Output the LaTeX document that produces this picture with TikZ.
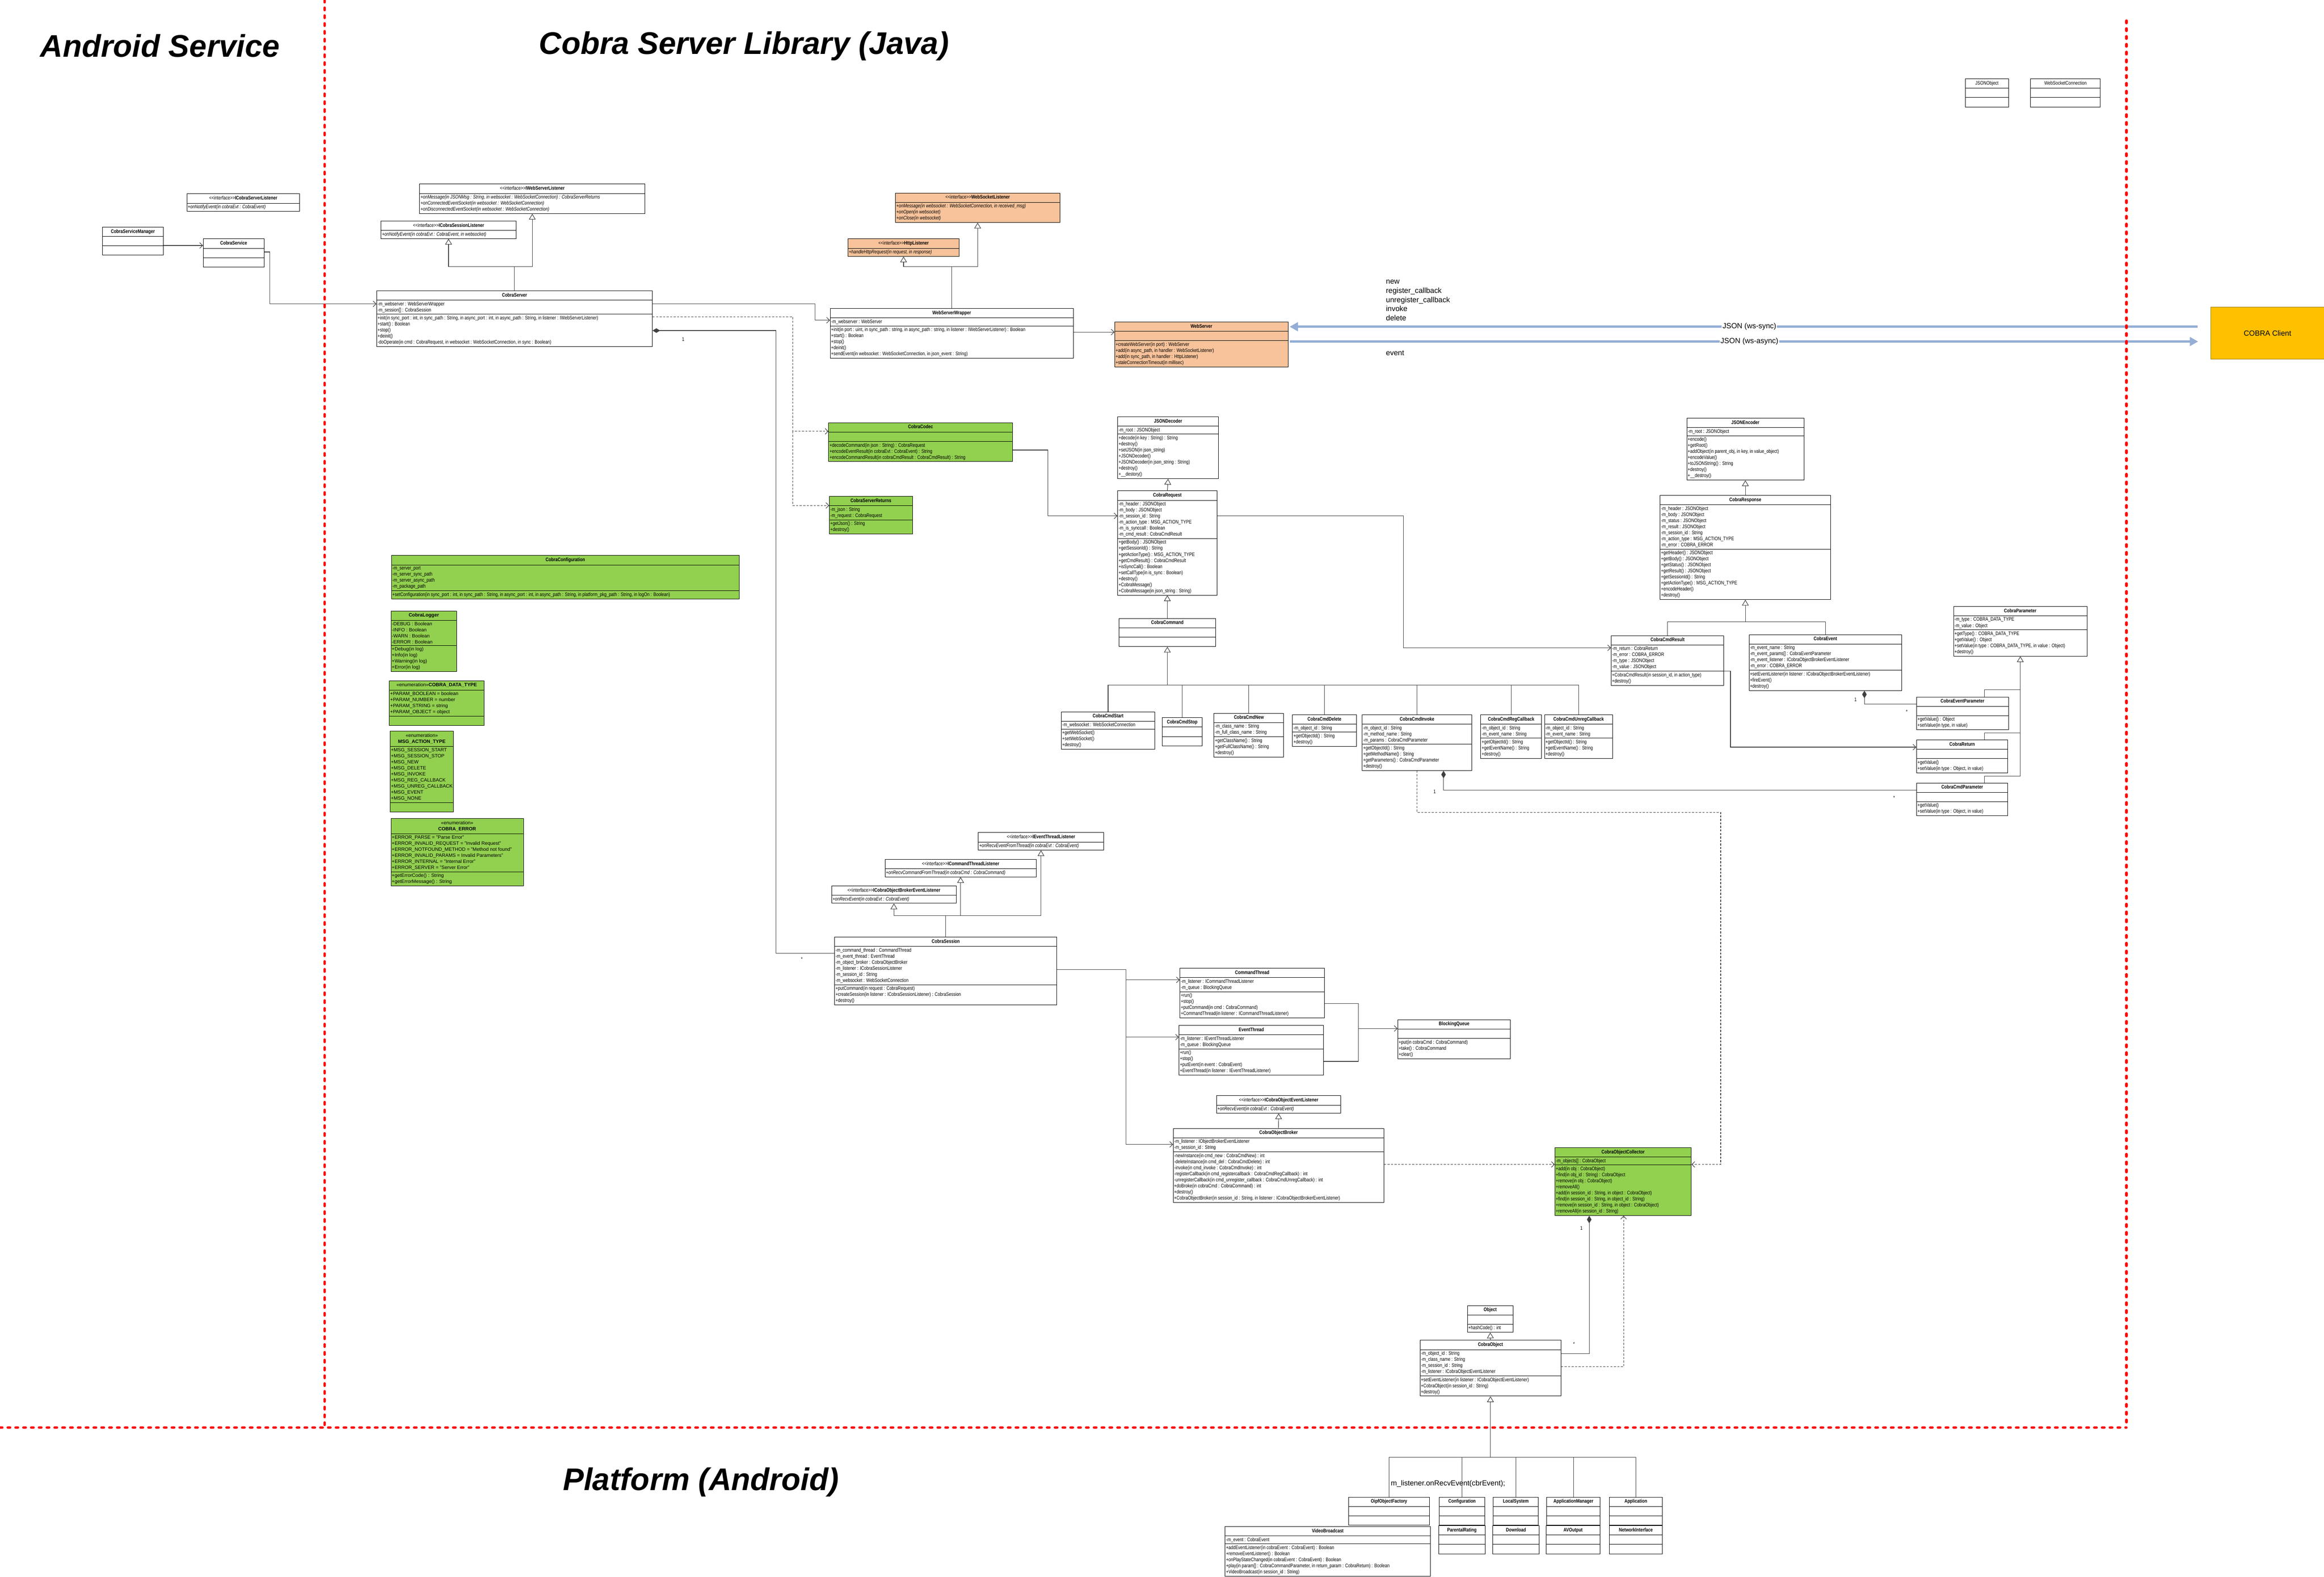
\documentclass[tikz,border=0pt]{standalone}
\usepackage{fontspec}
\setmainfont{Liberation Sans}
\newfontfamily\cfont{Liberation Sans}[FakeStretch=0.82]
\usetikzlibrary{shapes.multipart,arrows.meta}
\definecolor{peach}{HTML}{F8C39B}
\definecolor{leaf}{HTML}{92D050}
\definecolor{amber}{HTML}{FFC000}
\definecolor{amberline}{HTML}{9C7A00}
\definecolor{pipe}{HTML}{94AED5}
\newcommand\ttl[1]{\strut\textbf{#1}}
\newcommand\ifn[1]{\strut\textless\textless interface\textgreater\textgreater\textbf{#1}}
\newcommand\enm[1]{\begin{tabular}{@{}c@{}}\textless\textless enumeration\textgreater\textgreater\\\textbf{#1}\end{tabular}}
\begin{document}
\begin{tikzpicture}[x=0.04cm, y=-0.04cm,
        cls/.style = {draw, line width=0.35pt, fill=white, rectangle split, rectangle split parts=3,
            rectangle split part align={center,left,left}, anchor=north west, align=left,
            inner xsep=0.7pt, inner ysep=1.1pt, font=\cfont\fontsize{3.9}{4.65}\selectfont},
        ifc/.style = {cls, rectangle split parts=2},
        enum/.style = {cls, font=\fontsize{3.7}{4.65}\selectfont},
        wd/.style = {minimum width=#1*0.04cm},
        line/.style = {draw=black!75, line width=0.4pt},
        assoc/.style = {line, -{Straight Barb[length=2.3pt,width=4.4pt]}},
        dep/.style = {assoc, dash pattern=on 1.6pt off 1.1pt},
        gen/.style = {line, -{Triangle[open,length=4.4pt,width=5.2pt]}},
        comp/.style = {line, -{Diamond[length=5.8pt,width=3.5pt]}},
        mult/.style = {font=\cfont\fontsize{3.9}{4.65}\selectfont, inner sep=0pt},
        json/.style = {draw=pipe, line width=1.7pt},
        note/.style = {font=\fontsize{5.7}{7}\selectfont, inner sep=0pt, align=left},
        area/.style = {font=\fontsize{24}{28}\selectfont\bfseries\itshape, inner sep=0pt},
        sep/.style = {draw=red, line width=2pt, dash pattern=on 1.7pt off 4.3pt, line cap=round},
        ]
    \useasboundingbox (0,0) rectangle (1568.1,1063.5);

    \node[area] (t1) at (108,31) {Android Service};
    \node[area] (t2) at (502,31) {Cobra Server Library (Java)};
    \node[area] (t3) at (473,1000) {Platform (Android)};

    % android service
    \node[ifc, wd=76] (csl) at (126,130.6) {\ifn{ICobraServerListener} \nodepart{second} \textit{+onNotifyEvent(in cobraEvt : CobraEvent)}};
    \node[cls, wd=41] (csm) at (69,153) {\ttl{CobraServiceManager} \nodepart{second}\strut \nodepart{third}\strut};
    \node[cls, wd=41] (svc) at (137,161) {\ttl{CobraService} \nodepart{second}\strut \nodepart{third}\strut};

    % server
    \node[ifc, wd=152] (wsl) at (283,124) {\ifn{IWebServerListener} \nodepart{second}
        \textit{+onMessage(in JSONMsg : String, in websocket : WebSocketConnection) : CobraServerReturns}\\
        \textit{+onConnectedEventSocket(in websocket : WebSocketConnection)}\\
        \textit{+onDisconnectedEventSocket(in websocket : WebSocketConnection)}};
    \node[ifc, wd=91] (sesl) at (257,149) {\ifn{ICobraSessionListener} \nodepart{second}
        \textit{+onNotifyEvent(in cobraEvt : CobraEvent, in websocket)}};
    \node[cls, wd=186] (srv) at (254,196) {\ttl{CobraServer} \nodepart{second}
        -m\_webserver : WebServerWrapper\\-m\_session[] : CobraSession \nodepart{third}
        +init(in sync\_port : int, in sync\_path : String, in async\_port : int, in async\_path : String, in listener : IWebServerListener)\\
        +start() : Boolean\\+stop()\\+deinit()\\
        -doOperate(in cmd : CobraRequest, in websocket : WebSocketConnection, in sync : Boolean)};
    \node[ifc, wd=111, fill=peach] (wsock) at (604,130) {\ifn{WebSocketListener} \nodepart{second}
        \textit{+onMessage(in websocket : WebSocketConnection, in received\_msg)}\\
        \textit{+onOpen(in websocket)}\\\textit{+onClose(in websocket)}};
    \node[ifc, wd=75, fill=peach] (http) at (572,161) {\ifn{HttpListener} \nodepart{second}
        \textit{+handleHttpRequest(in request, in response)}};
    \node[cls, wd=164] (wrap) at (560,208) {\ttl{WebServerWrapper} \nodepart{second}
        -m\_webserver : WebServer \nodepart{third}
        +init(in port : uint, in sync\_path : string, in async\_path : string, in listener : IWebServerListener) : Boolean\\
        +start() : Boolean\\+stop()\\+deinit()\\
        +sendEvent(in websocket : WebSocketConnection, in json\_event : String)};
    \node[cls, wd=117, fill=peach] (web) at (752,217) {\ttl{WebServer} \nodepart{second}\strut \nodepart{third}
        +createWebServer(in port) : WebServer\\
        +add(in async\_path, in handler : WebSocketListener)\\
        +add(in sync\_path, in handler : HttpListener)\\
        +staleConnectionTimeout(in millisec)};
    \node[draw=amberline, fill=amber, line width=0.5pt, anchor=north west, minimum width=76.5*0.04cm,
        minimum height=35*0.04cm, font=\fontsize{5.7}{7}\selectfont] (client) at (1491.5,207) {COBRA Client};
    \node[cls, wd=29] (jobj) at (1326,53) {\strut JSONObject \nodepart{second}\strut \nodepart{third}\strut};
    \node[cls, wd=47] (wconn) at (1370,53) {\strut WebSocketConnection \nodepart{second}\strut \nodepart{third}\strut};

    \node[note, anchor=north west] (acts) at (935,188.7) {new\\register\_callback\\unregister\_callback\\invoke\\delete};
    \node[note, anchor=base west] (evt) at (935,239.8) {event};

    % codec and messages
    \node[cls, wd=124, fill=leaf] (codec) at (559,285) {\ttl{CobraCodec} \nodepart{second}\strut \nodepart{third}
        +decodeCommand(in json : String) : CobraRequest\\
        +encodeEventResult(in cobraEvt : CobraEvent) : String\\
        +encodeCommandResult(in cobraCmdResult : CobraCmdResult) : String};
    \node[cls, wd=56, fill=leaf] (sret) at (559.5,334.7) {\ttl{CobraServerReturns} \nodepart{second}
        -m\_json : String\\-m\_request : CobraRequest \nodepart{third}
        +getJson() : String\\+destroy()};
    \node[cls, wd=68] (jdec) at (754,281) {\ttl{JSONDecoder} \nodepart{second}
        -m\_root : JSONObject \nodepart{third}
        +decode(in key : String) : String\\+destroy()\\+setJSON(in json\_string)\\+JSONDecoder()\\
        +JSONDecoder(in json\_string : String)\\+destroy()\\+\_\_destory()};
    \node[cls, wd=67] (req) at (754,331) {\ttl{CobraRequest} \nodepart{second}
        -m\_header : JSONObject\\-m\_body : JSONObject\\-m\_session\_id : String\\
        -m\_action\_type : MSG\_ACTION\_TYPE\\-m\_is\_synccall : Boolean\\-m\_cmd\_result : CobraCmdResult \nodepart{third}
        +getBody() : JSONObject\\+getSessionId() : String\\+getActionType() : MSG\_ACTION\_TYPE\\
        +getCmdResult() : CobraCmdResult\\+isSyncCall() : Boolean\\+setCallType(in is\_sync : Boolean)\\
        +destroy()\\+CobraMessage()\\+CobraMessage(in json\_string : String)};
    \node[cls, wd=65] (cmd) at (755,417) {\ttl{CobraCommand} \nodepart{second}\strut \nodepart{third}\strut};
    \node[cls, wd=63] (cstart) at (716,480) {\ttl{CobraCmdStart} \nodepart{second}
        -m\_websocket : WebSocketConnection \nodepart{third}
        +getWebSocket()\\+setWebSocket()\\+destroy()};
    \node[cls, wd=27] (cstop) at (784,484) {\ttl{CobraCmdStop} \nodepart{second}\strut \nodepart{third}\strut};
    \node[cls, wd=47] (cnew) at (819,481) {\ttl{CobraCmdNew} \nodepart{second}
        -m\_class\_name : String\\-m\_full\_class\_name : String \nodepart{third}
        +getClassName() : String\\+getFullClassName() : String\\+destroy()};
    \node[cls, wd=43] (cdel) at (872,482) {\ttl{CobraCmdDelete} \nodepart{second}
        -m\_object\_id : String \nodepart{third}
        +getObjectId() : String\\+destroy()};
    \node[cls, wd=74] (cinv) at (919,482) {\ttl{CobraCmdInvoke} \nodepart{second}
        -m\_object\_id : String\\-m\_method\_name : String\\-m\_params : CobraCmdParameter \nodepart{third}
        +getObjectId() : String\\+getMethodName() : String\\+getParameters() : CobraCmdParameter\\+destroy()};
    \node[cls, wd=41] (creg) at (999,482) {\ttl{CobraCmdRegCallback} \nodepart{second}
        -m\_object\_id : String\\-m\_event\_name : String \nodepart{third}
        +getObjectId() : String\\+getEventName() : String\\+destroy()};
    \node[cls, wd=46] (cunreg) at (1042,482) {\ttl{CobraCmdUnregCallback} \nodepart{second}
        -m\_object\_id : String\\-m\_event\_name : String \nodepart{third}
        +getObjectId() : String\\+getEventName() : String\\+destroy()};

    \node[cls, wd=79] (jenc) at (1138,282) {\ttl{JSONEncoder} \nodepart{second}
        -m\_root : JSONObject \nodepart{third}
        +encode()\\+getRoot()\\+addObject(in parent\_obj, in key, in value\_object)\\+encodeValue()\\
        +toJSONString() : String\\+destroy()\\+\_\_destroy()};
    \node[cls, wd=115] (resp) at (1120,334) {\ttl{CobraResponse} \nodepart{second}
        -m\_header : JSONObject\\-m\_body : JSONObject\\-m\_status : JSONObject\\-m\_result : JSONObject\\
        -m\_session\_id : String\\-m\_action\_type : MSG\_ACTION\_TYPE\\-m\_error : COBRA\_ERROR \nodepart{third}
        +getHeader() : JSONObject\\+getBody() : JSONObject\\+getStatus() : JSONObject\\+getResult() : JSONObject\\
        +getSessionId() : String\\+getActionType() : MSG\_ACTION\_TYPE\\+encodeHeader()\\+destroy()};
    \node[cls, wd=76] (cres) at (1087,428.6) {\ttl{CobraCmdResult} \nodepart{second}
        -m\_return : CobraReturn\\-m\_error : COBRA\_ERROR\\-m\_type : JSONObject\\-m\_value : JSONObject \nodepart{third}
        +CobraCmdResult(in session\_id, in action\_type)\\+destroy()};
    \node[cls, wd=103] (cevt) at (1180,428) {\ttl{CobraEvent} \nodepart{second}
        -m\_event\_name : String\\-m\_event\_params[] : CobraEventParameter\\
        -m\_event\_listener : ICobraObjectBrokerEventListener\\-m\_error : COBRA\_ERROR \nodepart{third}
        +setEventListener(in listener : ICobraObjectBrokerEventListener)\\+fireEvent()\\+destroy()};
    \node[cls, wd=90] (cpar) at (1318,409) {\ttl{CobraParameter} \nodepart{second}
        -m\_type : COBRA\_DATA\_TYPE\\-m\_value : Object \nodepart{third}
        +getType() : COBRA\_DATA\_TYPE\\+getValue() : Object\\
        +setValue(in type : COBRA\_DATA\_TYPE, in value : Object)\\+destroy()};
    \node[cls, wd=62] (cevp) at (1293,470) {\ttl{CobraEventParameter} \nodepart{second}\strut \nodepart{third}
        +getValue() : Object\\+setValue(in type, in value)};
    \node[cls, wd=61.6] (cret) at (1293,499) {\ttl{CobraReturn} \nodepart{second}\strut \nodepart{third}
        +getValue()\\+setValue(in type : Object, in value)};
    \node[cls, wd=61.6] (ccmdp) at (1293,528) {\ttl{CobraCmdParameter} \nodepart{second}\strut \nodepart{third}
        +getValue()\\+setValue(in type : Object, in value)};

    % configuration and enums
    \node[cls, wd=234.6, fill=leaf] (conf) at (264,374.6) {\ttl{CobraConfiguration} \nodepart{second}
        -m\_server\_port\\-m\_server\_sync\_path\\-m\_server\_async\_path\\-m\_package\_path \nodepart{third}
        +setConfiguration(in sync\_port : int, in sync\_path : String, in async\_port : int, in async\_path : String, in platform\_pkg\_path : String, in logOn : Boolean)};
    \node[enum, wd=44.4, fill=leaf] (logger) at (263.6,412) {\ttl{CobraLogger} \nodepart{second}
        -DEBUG : Boolean\\-INFO : Boolean\\-WARN : Boolean\\-ERROR : Boolean \nodepart{third}
        +Debug(in log)\\+Info(in log)\\+Warning(in log)\\+Error(in log)};
    \node[enum, wd=64, fill=leaf] (dtype) at (262.5,459) {\strut\textless\textless enumeration\textgreater\textgreater\textbf{COBRA\_DATA\_TYPE} \nodepart{second}
        +PARAM\_BOOLEAN = boolean\\+PARAM\_NUMBER = number\\+PARAM\_STRING = string\\+PARAM\_OBJECT = object \nodepart{third}\strut};
    \node[enum, wd=42, fill=leaf] (atype) at (263,493) {\enm{MSG\_ACTION\_TYPE} \nodepart{second}
        +MSG\_SESSION\_START\\+MSG\_SESSION\_STOP\\+MSG\_NEW\\+MSG\_DELETE\\+MSG\_INVOKE\\
        +MSG\_REG\_CALLBACK\\+MSG\_UNREG\_CALLBACK\\+MSG\_EVENT\\+MSG\_NONE \nodepart{third}\strut};
    \node[enum, wd=89.4, fill=leaf] (err) at (263.6,552) {\enm{COBRA\_ERROR} \nodepart{second}
        +ERROR\_PARSE = "Parse Error"\\+ERROR\_INVALID\_REQUEST = "Invalid Request"\\
        +ERROR\_NOTFOUND\_METHOD = "Method not found"\\+ERROR\_INVALID\_PARAMS = Invalid Parameters"\\
        +ERROR\_INTERNAL = "Internal Error"\\+ERROR\_SERVER = "Server Error" \nodepart{third}
        +getErrorCode() : String\\+getErrorMessage() : String};

    % session
    \node[ifc, wd=84.5] (ietl) at (660,561.5) {\ifn{IEventThreadListener} \nodepart{second}
        \textit{+onRecvEventFromThread(in cobraEvt : CobraEvent)}};
    \node[ifc, wd=102] (ictl) at (597,579.6) {\ifn{ICommandThreadListener} \nodepart{second}
        \textit{+onRecvCommandFromThread(in cobraCmd : CobraCommand)}};
    \node[ifc, wd=84] (icobel) at (561,597.4) {\ifn{ICobraObjectBrokerEventListener} \nodepart{second}
        \textit{+onRecvEvent(in cobraEvt : CobraEvent)}};
    \node[cls, wd=150] (sess) at (563,632) {\ttl{CobraSession} \nodepart{second}
        -m\_command\_thread : CommandThread\\-m\_event\_thread : EventThread\\-m\_object\_broker : CobraObjectBroker\\
        -m\_listener : ICobraSessionListener\\-m\_session\_id : String\\-m\_websocket : WebSocketConnection \nodepart{third}
        +putCommand(in request : CobraRequest)\\+createSession(in listener : ICobraSessionListener) : CobraSession\\+destroy()};
    \node[cls, wd=97.5] (cthr) at (796,653) {\ttl{CommandThread} \nodepart{second}
        -m\_listener : ICommandThreadListener\\-m\_queue : BlockingQueue \nodepart{third}
        +run()\\+stop()\\+putCommand(in cmd : CobraCommand)\\+CommandThread(in listener : ICommandThreadListener)};
    \node[cls, wd=97.6] (ethr) at (795.4,691.6) {\ttl{EventThread} \nodepart{second}
        -m\_listener : IEventThreadListener\\-m\_queue : BlockingQueue \nodepart{third}
        +run()\\+stop()\\+putEvent(in event : CobraEvent)\\+EventThread(in listener : IEventThreadListener)};
    \node[cls, wd=76] (bq) at (943,687.7) {\ttl{BlockingQueue} \nodepart{second}\strut \nodepart{third}
        +put(in cobraCmd : CobraCommand)\\+take() : CobraCommand\\+clear()};
    \node[ifc, wd=84] (ioel) at (820.6,739) {\ifn{ICobraObjectEventListener} \nodepart{second}
        \textit{+onRecvEvent(in cobraEvt : CobraEvent)}};
    \node[cls, wd=142] (brok) at (791.5,761) {\ttl{CobraObjectBroker} \nodepart{second}
        -m\_listener : IObjectBrokerEventListener\\-m\_session\_id : String \nodepart{third}
        -newInstance(in cmd\_new : CobraCmdNew) : int\\-deleteInstance(in cmd\_del : CobraCmdDelete) : int\\
        -invoke(in cmd\_invoke : CobraCmdInvoke) : int\\
        -registerCallback(in cmd\_registercallback : CobraCmdRegCallback) : int\\
        -unregisterCallback(in cmd\_unregister\_callback : CobraCmdUnregCallback) : int\\
        +doBroke(in cobraCmd : CobraCommand) : int\\+destroy()\\
        +CobraObjectBroker(in session\_id : String, in listener : ICobraObjectBrokerEventListener)};
    \node[cls, wd=92, fill=leaf] (coll) at (1049,774) {\ttl{CobraObjectCollector} \nodepart{second}
        -m\_objects[] : CobraObject \nodepart{third}
        +add(in obj : CobraObject)\\+find(in obj\_id : String) : CobraObject\\+remove(in obj : CobraObject)\\
        +removeAll()\\+add(in session\_id : String, in object : CobraObject)\\
        +find(in session\_id : String, in object\_id : String)\\
        +remove(in session\_id : String, in object : CobraObject)\\+removeAll(in session\_id : String)};
    \node[cls, wd=30.7] (obj) at (990,880.5) {\ttl{Object} \nodepart{second}\strut \nodepart{third}+hashCode() : int};
    \node[cls, wd=95] (cobj) at (958,904) {\ttl{CobraObject} \nodepart{second}
        -m\_object\_id : String\\-m\_class\_name : String\\-m\_session\_id : String\\
        -m\_listener : ICobraObjectEventListener \nodepart{third}
        +setEventListener(in listener : ICobraObjectEventListener)\\+CobraObject(in session\_id : String)\\+destroy()};

    % platform
    \node[cls, wd=54.7] (factory) at (909.7,1009.7) {\ttl{OipfObjectFactory} \nodepart{second}\strut \nodepart{third}\strut};
    \node[cls, wd=30.7] (config) at (971,1009.7) {\ttl{Configuration} \nodepart{second}\strut \nodepart{third}\strut};
    \node[cls, wd=30.4] (lsys) at (1007.4,1009.7) {\ttl{LocalSystem} \nodepart{second}\strut \nodepart{third}\strut};
    \node[cls, wd=36] (appm) at (1043.5,1009.7) {\ttl{ApplicationManager} \nodepart{second}\strut \nodepart{third}\strut};
    \node[cls, wd=36] (app) at (1085.6,1009.7) {\ttl{Application} \nodepart{second}\strut \nodepart{third}\strut};
    \node[cls, wd=31.3] (prat) at (970.6,1029) {\ttl{ParentalRating} \nodepart{second}\strut \nodepart{third}\strut};
    \node[cls, wd=31.5] (dl) at (1007,1029) {\ttl{Download} \nodepart{second}\strut \nodepart{third}\strut};
    \node[cls, wd=36.5] (avo) at (1043,1029) {\ttl{AVOutput} \nodepart{second}\strut \nodepart{third}\strut};
    \node[cls, wd=36] (nif) at (1085.6,1029) {\ttl{NetworkInterface} \nodepart{second}\strut \nodepart{third}\strut};
    \node[cls, wd=138.5] (vb) at (826.5,1029.6) {\ttl{VideoBroadcast} \nodepart{second}
        -m\_event : CobraEvent \nodepart{third}
        +addEventListener(in cobraEvent : CobraEvent) : Boolean\\+removeEventListener() : Boolean\\
        +onPlayStateChanged(in cobraEvent : CobraEvent) : Boolean\\
        +play(in param[] : CobraCommandParameter, in return\_param : CobraReturn) : Boolean\\
        +VideoBroadcast(in session\_id : String)};
    \node[note, font=\fontsize{5.6}{7}\selectfont] (cb) at (977,1001) {m\_listener.onRecvEvent(cbrEvent);};

    % connectors
    \draw[assoc] (csm.east |- 0,165.6) -- (svc.west |- 0,165.6);
    \draw[assoc] (svc.east |- 0,170) -| (182,205) -- (srv.west |- 0,205);
    \draw[gen] (srv.north) -- ++(0,-16) -| (sesl.south);
    \draw[gen] (srv.north) -- ++(0,-16) -| (wsl.south);
    \draw[gen] (wrap.north) -- ++(0,-28) -| (http.south);
    \draw[gen] (wrap.north) -- ++(0,-28) -| (wsock.south);
    \draw[assoc] (srv.east |- 0,205) -| (550,216) -- (wrap.west |- 0,216);
    \draw[assoc] (wrap.east |- 0,224) -- (web.west |- 0,224);
    \draw[json, -{Triangle[length=6.4pt,width=6.7pt]}, shorten <=10pt, shorten >=1pt] (client.west |- 0,220.4) -- (web.east |- 0,220.4)
        node[pos=0.5, fill=white, inner sep=0.6pt, font=\fontsize{5.7}{7}\selectfont] {JSON (ws-sync)};
    \draw[json, -{Triangle[length=6.4pt,width=6.7pt]}, shorten <=1pt, shorten >=9.5pt] (web.east |- 0,230.4) -- (client.west |- 0,230.4)
        node[pos=0.5, fill=white, inner sep=0.6pt, font=\fontsize{5.7}{7}\selectfont] {JSON (ws-async)};
    \draw[dep] (srv.east |- 0,213.8) -- (535,213.8) |- (codec.west |- 0,291);
    \draw[dep] (535,291) |- (sret.west |- 0,341);
    \draw[assoc] (codec.east |- 0,303.6) -| (707,348) -- (req.west |- 0,348);
    \draw[assoc] (req.east |- 0,348) -| (947,437) -- (cres.west |- 0,437);
    \draw[gen] (req.north) -- (jdec.south);
    \draw[gen] (cmd.north) -- (req.south);
    \foreach \c in {cstart,cstop,cnew,cdel,cinv,creg,cunreg}
        \draw[line] (\c.north) -- (\c.north |- 0,462);
    \draw[line] (cstart.north |- 0,462) -- (cunreg.north |- 0,462);
    \draw[gen] (cmd.south |- 0,462) -- (cmd.south);
    \draw[comp] (ccmdp.west |- 0,533) -| (974,0 |- cinv.south);
    \node[mult] (m1) at (968,534) {1};
    \node[mult] (m2) at (1278,538) {*};
    \draw[dep] (cinv.south) |- (1161,548) |- (coll.east |- 0,785.5);
    \draw[gen] (resp.north) -- (jenc.south);
    \draw[line] (cres.north) |- (cevt.north |- 0,419.5) -- (cevt.north);
    \draw[gen] (resp.south |- 0,419.5) -- (resp.south);
    \draw[comp] (cevp.west |- 0,475) -| (1258,0 |- cevt.south);
    \node[mult] (m3) at (1252,472) {1};
    \node[mult] (m4) at (1286.6,480) {*};
    \draw[gen] (1339,0 |- ccmdp.north) |- (cpar.south |- 0,523.5) -- (cpar.south);
    \draw[line] (1339,0 |- cret.north) |- (cpar.south |- 0,494.5);
    \draw[line] (1339,0 |- cevp.north) |- (cpar.south |- 0,465.3);
    \draw[assoc] (cres.east |- 0,452.6) -| (1167.6,504) -- (cret.west |- 0,504);
    \draw[comp] (sess.west |- 0,643) -| (523.5,223) -- (srv.east |- 0,223);
    \node[mult] (m5) at (461,229) {1};
    \node[mult] (m6) at (541,647) {*};
    \draw[gen] (sess.north) -- ++(0,-14.4) -| (icobel.south);
    \draw[gen] (sess.north) -- ++(0,-14.4) -| (ictl.south);
    \draw[gen] (sess.north) -- ++(0,-14.4) -| (ietl.south);
    \draw[line] (sess.east |- 0,654) -| (759.6,772);
    \draw[assoc] (759.6,661) -- (cthr.west |- 0,661);
    \draw[assoc] (759.6,699.6) -- (ethr.west |- 0,699.6);
    \draw[assoc] (759.6,760) |- (brok.west |- 0,772);
    \draw[line] (cthr.east |- 0,677) -| (916.6,716) -- (ethr.east |- 0,716);
    \draw[assoc] (916.6,693.8) -- (bq.west |- 0,693.8);
    \draw[gen] (brok.north) -- (ioel.south);
    \draw[dep] (brok.east |- 0,785.5) -- (coll.west |- 0,785.5);
    \draw[comp] (cobj.east |- 0,913) -| (1072.3,0 |- coll.south);
    \node[mult] (m7) at (1067,828.5) {1};
    \node[mult] (m8) at (1062,906.6) {*};
    \draw[dep] (cobj.east |- 0,922) -| (1095.5,0 |- coll.south);
    \draw[gen] (cobj.north) -- (obj.south);
    \foreach \c in {factory,config,lsys,appm,app}
        \draw[line] (\c.north) -- (\c.north |- 0,983);
    \draw[line] (factory.north |- 0,983) -- (app.north |- 0,983);
    \draw[gen] (cobj.south |- 0,983) -- (cobj.south);

    % borders
    \draw[sep] (219,0) -- (219,963);
    \draw[sep] (1434.7,14) -- (1434.7,963);
    \draw[sep] (0,963) -- (1434.7,963);
\end{tikzpicture}
\end{document}
